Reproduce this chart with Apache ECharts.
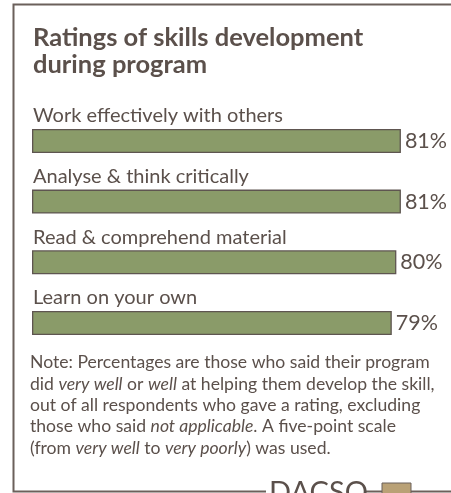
<!DOCTYPE html>
<html><head><meta charset="utf-8">
<script src="https://cdn.jsdelivr.net/npm/echarts@6/dist/echarts.min.js"></script>
<style>html,body{margin:0;padding:0;background:#fff}#c{width:451px;height:493px}</style>
</head><body><div id="c"></div>
<script>
const categories = ["Work effectively with others", "Analyse & think critically", "Read & comprehend material", "Learn on your own"];
const values = [81, 81, 80, 79];
const titleLines = ["Ratings of skills development", "during program"];

const TXT = '#5b504b', FRAME = '#6b605b', FONT = 'Lato';
const chart = echarts.init(document.getElementById('c'), null, {renderer: 'canvas'});
chart.setOption({
  backgroundColor: '#fff',
  animation: false,
  grid: {left: 32, top: 110.6, right: 0, bottom: 139.7, containLabel: false},
  xAxis: {type: 'value', min: 0, max: 92, show: false},
  yAxis: {type: 'category', data: categories, inverse: true, show: false},
  series: [
    {type: 'bar', data: values, barWidth: 24, barGap: '-100%',
     itemStyle: {color: '#8a9b69', borderColor: '#5e5550', borderWidth: 1.3},
     label: {show: true, position: [1, -13], align: 'left', verticalAlign: 'middle', formatter: '{b}',
             color: TXT, fontFamily: FONT, fontSize: 20}},
    {type: 'bar', data: values, barWidth: 24, barGap: '-100%', silent: true,
     itemStyle: {color: 'rgba(0,0,0,0)'},
     label: {show: true, position: 'right', distance: 4, formatter: '{c}%',
             color: TXT, fontFamily: FONT, fontSize: 21.5}}
  ],
  graphic: [
    {type: 'polyline', shape: {points: [[451, 4.5], [13.5, 4.5], [13.5, 491.5], [266, 491.5]]},
     style: {stroke: FRAME, lineWidth: 2, fill: null}},
    {type: 'line', shape: {x1: 366, y1: 491.5, x2: 451, y2: 491.5}, style: {stroke: FRAME, lineWidth: 2}},
    {type: 'rect', shape: {x: 382, y: 483, width: 29, height: 12}, style: {fill: '#b9a176', stroke: '#6b605b', lineWidth: 1}},
    {type: 'text', left: 269, top: 478, style: {text: 'DACSO', font: '29px Lato', fill: TXT}},
    {type: 'text', left: 33, top: 25, style: {text: titleLines.join('\n'), font: 'bold 25.5px Lato', lineHeight: 26.5, fill: TXT}},
    {type: 'text', left: 30, top: 352, style: {
      text: 'Note: Percentages are those who said their program\n' +
            'did {i|very well} or {i|well} at helping them develop the skill,\n' +
            'out of all respondents who gave a rating, excluding\n' +
            'those who said {i|not applicable}. A five-point scale\n' +
            '(from {i|very well} to {i|very poorly}) was used.',
      font: '17.6px Lato', lineHeight: 21.3, fill: TXT,
      rich: {i: {fontStyle: 'italic', fontFamily: FONT, fontSize: 17.6, fill: TXT, lineHeight: 21.3}}}}
  ]
});
</script></body></html>
